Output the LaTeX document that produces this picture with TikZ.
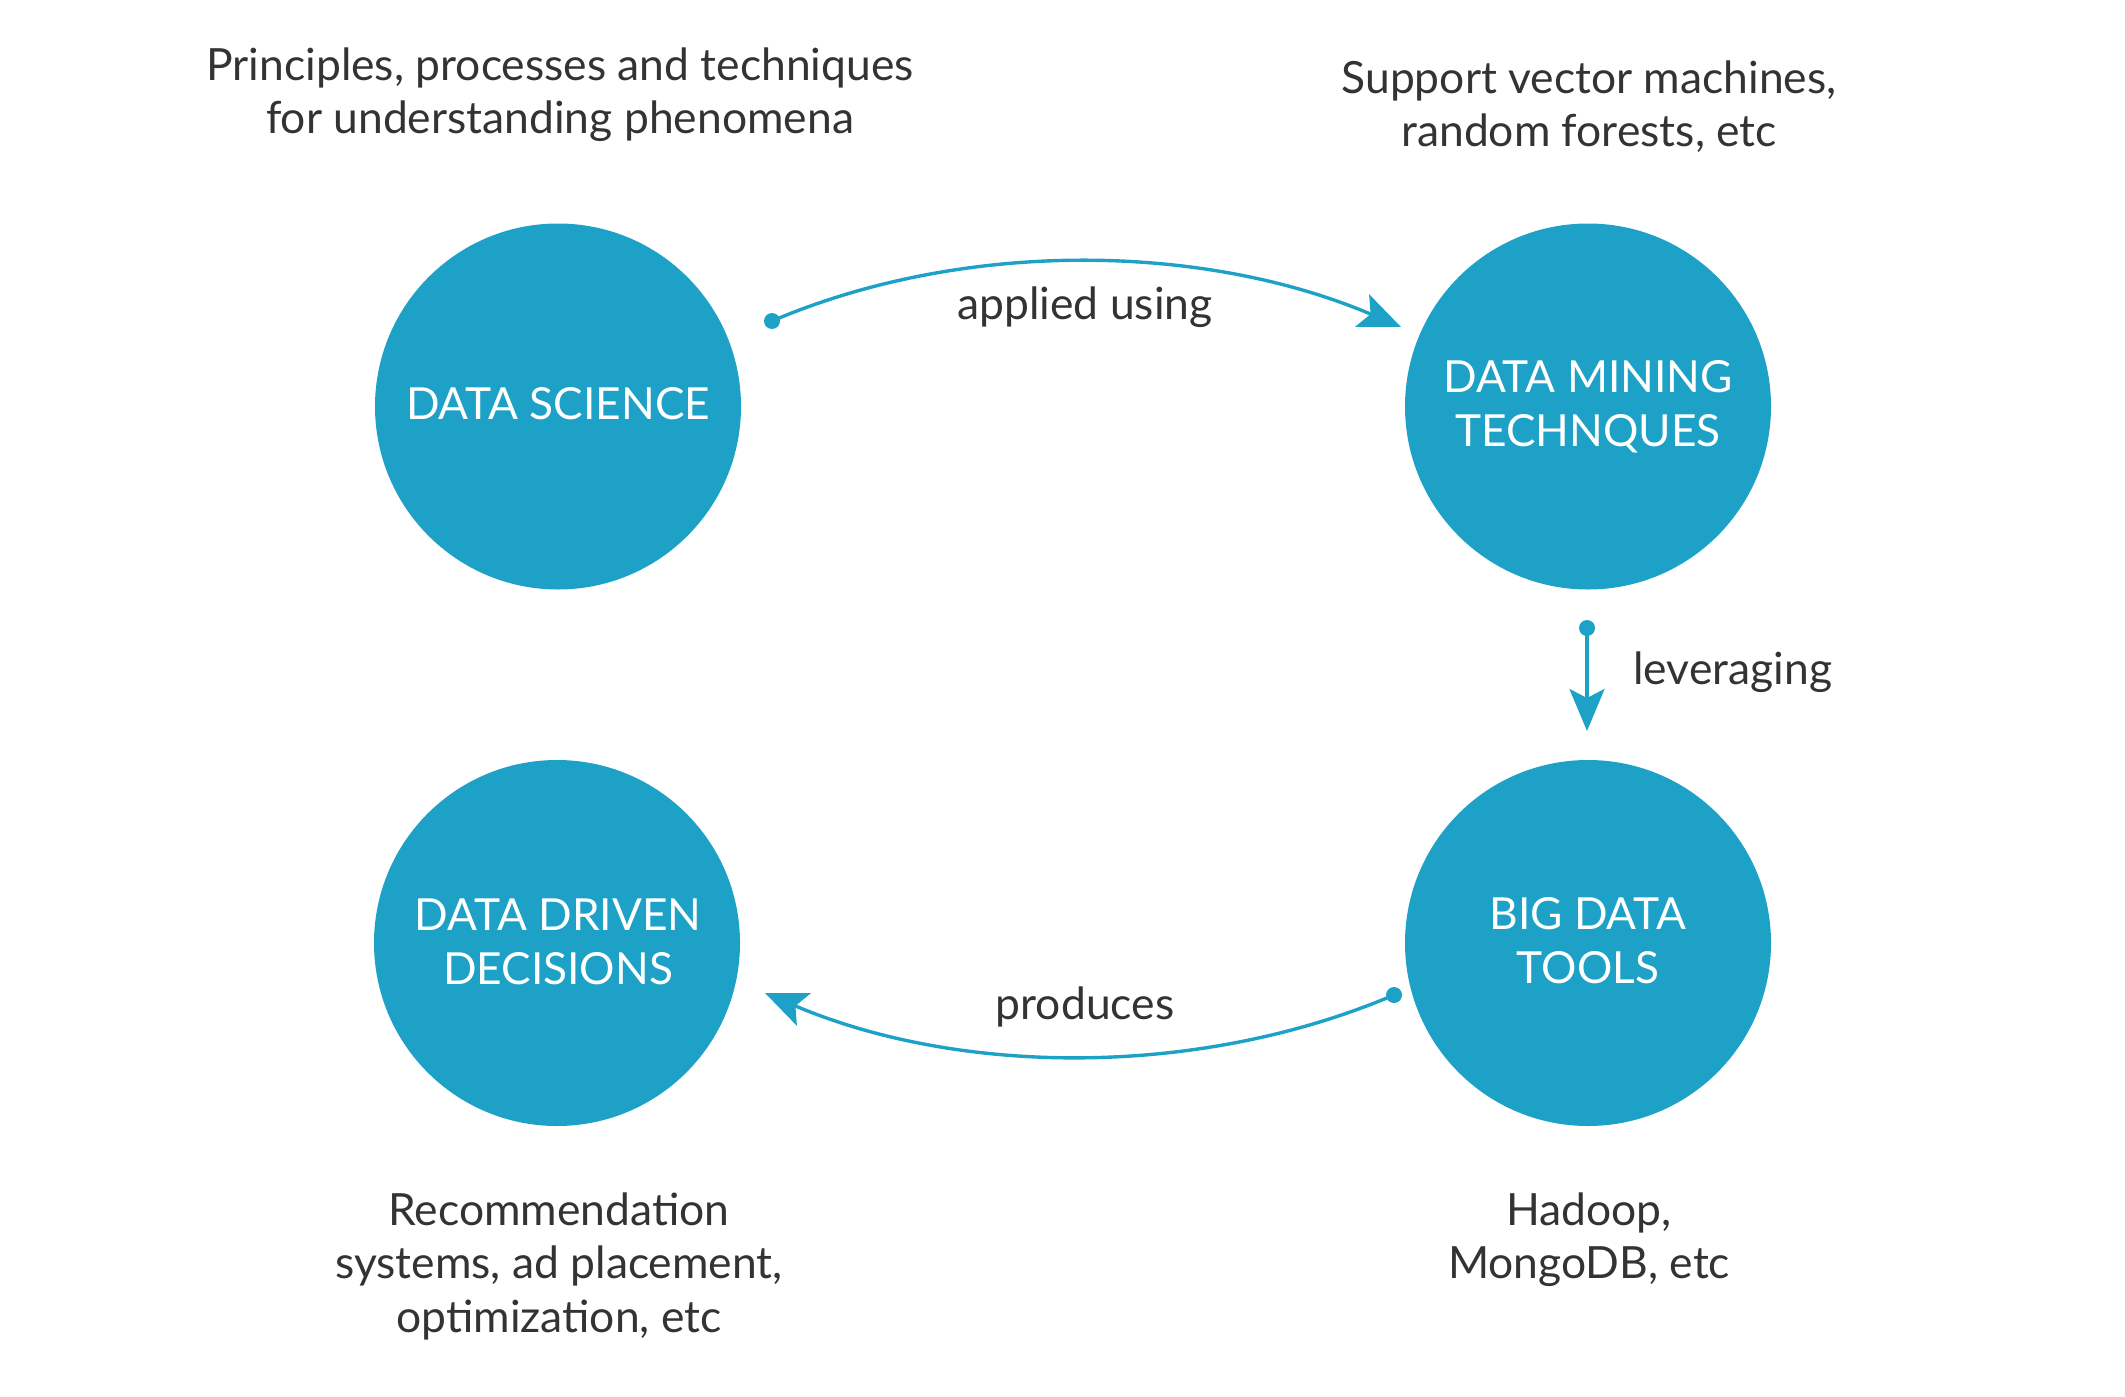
\documentclass[tikz,border=0pt]{standalone}
\usepackage{fontspec}
\setmainfont{Lato}
\usetikzlibrary{arrows.meta}
\definecolor{dsblue}{HTML}{1EA1C7}
\definecolor{txtgrey}{HTML}{333333}
\begin{document}
\begin{tikzpicture}[x=0.5pt,y=-0.5pt,
  bubble/.style={circle,fill=dsblue,minimum size=183pt,inner sep=0pt},
  intext/.style={text=white,font=\fontsize{22.1}{27.2}\selectfont,anchor=base,inner sep=0pt},
  desc/.style={text=txtgrey,font=\fontsize{22.2}{26.75}\selectfont,anchor=base,inner sep=0pt},
  lbl/.style={text=txtgrey,font=\fontsize{22.2}{26}\selectfont,anchor=base,inner sep=0pt},
  conn/.style={draw=dsblue,line width=1.7pt,-{Stealth[length=21pt,width=17.5pt,inset=4.5pt]}},
  dot/.style={circle,fill=dsblue,minimum size=8pt,inner sep=0pt}]
\useasboundingbox (0,0) rectangle (2125,1397);
% circles
\node[bubble] (ds) at (558,406.5) {};
\node[bubble] (dm) at (1588,406.5) {};
\node[bubble] (bd) at (1588,943) {};
\node[bubble] (dd) at (557,943) {};
% circle texts
\node[intext] (dsT) at (558,419) {DATA SCIENCE};
\node[intext] (dmT) at (1588,392) {\begin{tabular}[t]{@{}c@{}}DATA MINING\\TECHNQUES\end{tabular}};
\node[intext] (bdT) at (1588,929) {\begin{tabular}[t]{@{}c@{}}BIG DATA\\TOOLS\end{tabular}};
\node[intext] (ddT) at (558,930) {\begin{tabular}[t]{@{}c@{}}DATA DRIVEN\\DECISIONS\end{tabular}};
% descriptions
\node[desc] (dsD) at (560,80) {\begin{tabular}[t]{@{}c@{}}Principles, processes and techniques\\for understanding phenomena\end{tabular}};
\node[desc] (dmD) at (1589,93.3) {\begin{tabular}[t]{@{}c@{}}Support vector machines,\\random forests, etc\end{tabular}};
\node[desc] (ddD) at (559,1225) {\begin{tabular}[t]{@{}c@{}}Recommendation\\systems, ad placement,\\optimization, etc\end{tabular}};
\node[desc] (bdD) at (1589,1225) {\begin{tabular}[t]{@{}c@{}}Hadoop,\\MongoDB, etc\end{tabular}};
% connectors
\node[dot] (d1) at (772,321) {};
\coordinate (t1) at (1401,327);
\draw[conn] (d1.center) .. controls (967,238) and (1206,244) .. (t1);
\node[lbl] (l1) at (1085,319) {applied using};
\node[dot] (d2) at (1587,628) {};
\coordinate (t2) at (1587,731);
\draw[conn] (d2.center) -- (t2);
\node[lbl,anchor=base west] (l2) at (1633,684) {leveraging};
\node[dot] (d3) at (1394,995) {};
\coordinate (t3) at (765,993);
\draw[conn] (d3.center) .. controls (1199,1078) and (960,1076) .. (t3);
\node[lbl] (l3) at (1085,1019) {produces};
\end{tikzpicture}
\end{document}
